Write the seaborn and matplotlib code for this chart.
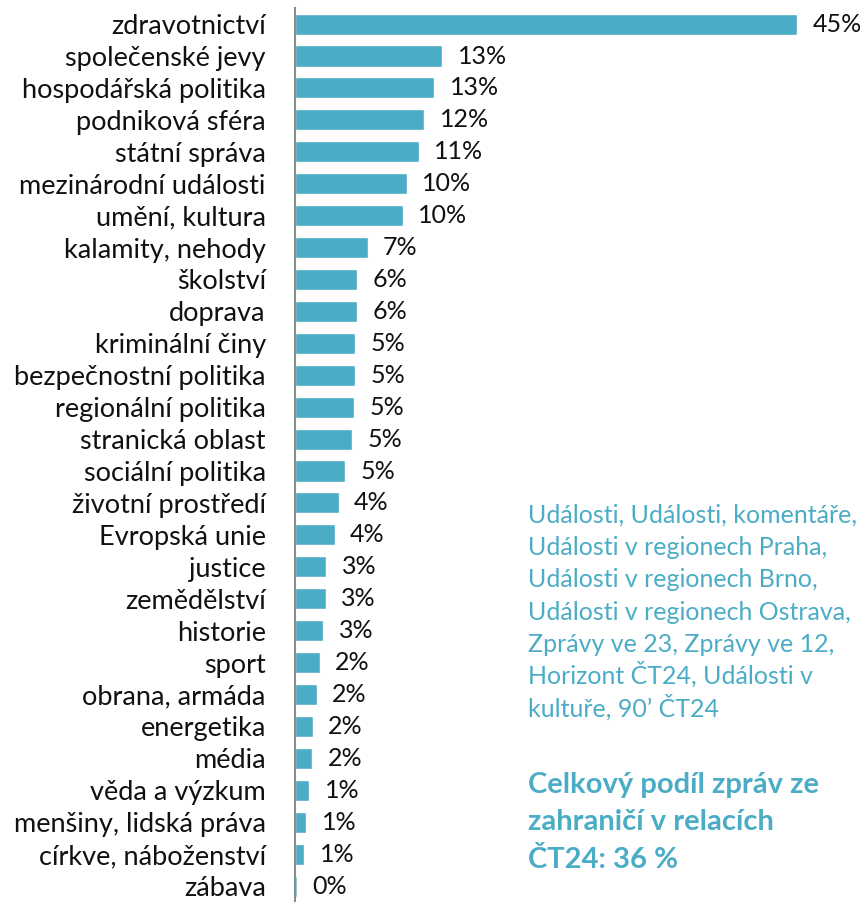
import matplotlib
matplotlib.use("Agg")
import matplotlib.pyplot as plt
import seaborn as sns
import pandas as pd
import numpy as np

# Topics and their share (%)
topics = [
    "zdravotnictví", "společenské jevy", "hospodářská politika", "podniková sféra",
    "státní správa", "mezinárodní události", "umění, kultura", "kalamity, nehody",
    "školství", "doprava", "kriminální činy", "bezpečnostní politika",
    "regionální politika", "stranická oblast", "sociální politika", "životní prostředí",
    "Evropská unie", "justice", "zemědělství", "historie", "sport", "obrana, armáda",
    "energetika", "média", "věda a výzkum", "menšiny, lidská práva",
    "církve, náboženství", "zábava",
]
shares = [
    45.0, 13.2, 12.5, 11.6, 11.1, 10.0, 9.65, 6.5,
    5.6, 5.6, 5.35, 5.35, 5.25, 5.1, 4.5, 3.9,
    3.55, 2.8, 2.75, 2.5, 2.2, 1.95, 1.58, 1.55,
    1.28, 0.98, 0.8, 0.15,
]
share_labels = [
    "45%", "13%", "13%", "12%", "11%", "10%", "10%", "7%",
    "6%", "6%", "5%", "5%", "5%", "5%", "5%", "4%",
    "4%", "3%", "3%", "3%", "2%", "2%", "2%", "2%",
    "1%", "1%", "1%", "0%",
]
programmes = [
    "Události, Události, komentáře,",
    "Události v regionech Praha,",
    "Události v regionech Brno,",
    "Události v regionech Ostrava,",
    "Zprávy ve 23, Zprávy ve 12,",
    "Horizont ČT24, Události v",
    "kultuře, 90’ ČT24",
]
summary = ["Celkový podíl zpráv ze", "zahraničí v relacích", "ČT24: 36 %"]

df = pd.DataFrame({"topic": topics, "share": shares})

teal = "#4BACC6"
sns.set_style("white")
plt.rcParams["font.family"] = ["Lato", "DejaVu Sans"]

fig = plt.figure(figsize=(8.6, 9.02), dpi=100)
ax = fig.add_axes([295 / 860, 0.0, 522 / 860, 0.991])

sns.barplot(data=df, x="share", y="topic", color=teal, width=0.66,
            saturation=1, ax=ax)

for i, (v, lab) in enumerate(zip(shares, share_labels)):
    ax.text(v + 1.4, i, lab, va="center", ha="left", fontsize=18, color="#111111")

ax.set_xlim(0, 46.8)
ax.set_ylim(len(topics) - 0.5, -0.5)
ax.set_xlabel("")
ax.set_ylabel("")
ax.set_xticks([])
for s in ["top", "right", "bottom"]:
    ax.spines[s].set_visible(False)
ax.spines["left"].set_color("#8c8c8c")
ax.spines["left"].set_linewidth(1.5)

ax.tick_params(axis="y", which="major", length=0, pad=21, labelsize=19.5,
               labelcolor="#111111")
ax.set_yticks(np.arange(len(topics) + 1) - 0.5, minor=True)
ax.tick_params(axis="y", which="minor", length=6.5, width=1.5, color="#8c8c8c")

# Side notes, one line at a time so accents do not change the spacing
for k, line in enumerate(programmes):
    fig.text(528 / 860, 1 - (523 + 32.2 * k) / 902, line, color=teal,
             fontsize=18, va="baseline", ha="left")
for k, line in enumerate(summary):
    fig.text(528 / 860, 1 - (793 + 37.5 * k) / 902, line, color=teal,
             fontsize=21, fontweight="bold", va="baseline", ha="left")

fig.savefig("out.png", dpi=100)
